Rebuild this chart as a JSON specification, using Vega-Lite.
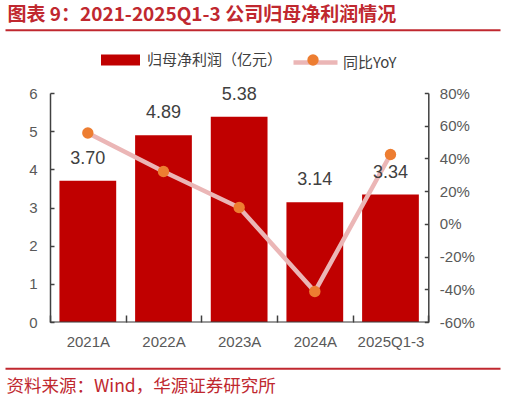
{
  "$schema": "https://vega.github.io/schema/vega-lite/v6.json",
  "width": 495,
  "height": 229,
  "autosize": {"type": "none"},
  "padding": {"left": 5, "top": 93, "right": 6, "bottom": 79},
  "background": "white",
  "config": {
    "view": {"stroke": null},
    "axis": {"grid": false, "labelFont": "Liberation Sans", "labelFontSize": 15, "labelColor": "#595959", "labelOverlap": false},
    "legend": {"labelFont": "Noto Sans CJK SC", "labelFontSize": 15, "labelColor": "#404040", "padding": 0}
  },
  "data": {
    "values": [
      {"period": "2021A", "profit": 3.70, "yoy": 0.555, "series": "同比YoY"},
      {"period": "2022A", "profit": 4.89, "yoy": 0.32, "series": "同比YoY"},
      {"period": "2023A", "profit": 5.38, "yoy": 0.10, "series": "同比YoY"},
      {"period": "2024A", "profit": 3.14, "yoy": -0.414, "series": "同比YoY"},
      {"period": "2025Q1-3", "profit": 3.34, "yoy": 0.424, "series": "同比YoY"}
    ]
  },
  "resolve": {
    "scale": {"x": "independent", "y": "independent"},
    "axis": {"x": "independent", "y": "independent"}
  },
  "layer": [
    {
      "layer": [
        {
          "mark": {"type": "bar", "width": {"band": 0.75}},
          "encoding": {
            "x": {
              "field": "period", "type": "nominal", "sort": null,
              "scale": {"type": "band", "paddingInner": 0, "paddingOuter": 0.7711, "align": 0.3856, "round": false},
              "axis": {
                "orient": "bottom", "title": null, "domain": false, "labelAngle": 0,
                "tickBand": "extent", "tickSize": -7, "tickColor": "#404040", "tickWidth": 1.5,
                "labelPadding": 19
              }
            },
            "y": {
              "field": "profit", "type": "quantitative",
              "scale": {"domain": [0, 6], "nice": false},
              "axis": {
                "orient": "left", "offset": -45, "title": null,
                "values": [0, 1, 2, 3, 4, 5, 6], "tickCount": 20, "format": "d",
                "domainColor": "#404040", "domainWidth": 1.5, "tickColor": "#404040", "tickWidth": 1.5,
                "tickSize": -4, "labelPadding": 17
              }
            },
            "color": {
              "datum": "归母净利润（亿元）",
              "scale": {"range": ["#C00000"]},
              "legend": {
                "orient": "none", "legendX": 96, "legendY": -52.5, "title": null,
                "symbolType": "M-1,-0.28H1V0.28H-1Z", "symbolSize": 1521, "symbolStrokeWidth": 0,
                "labelOffset": 7
              }
            }
          }
        },
        {
          "mark": {"type": "tick", "size": 75.7, "thickness": 1.5, "color": "#404040"},
          "encoding": {
            "x": {"field": "period", "type": "nominal", "sort": null},
            "y": {"datum": 0, "type": "quantitative"}
          }
        }
      ]
    },
    {
      "layer": [
        {
          "mark": {"type": "line", "strokeWidth": 4.5},
          "encoding": {
            "x": {
              "field": "period", "type": "nominal", "sort": null,
              "scale": {"type": "band", "paddingInner": 0, "paddingOuter": 0.7711, "align": 0.3856, "round": false},
              "axis": {
                "orient": "bottom", "offset": 46.3, "labels": false, "ticks": false,
                "domainColor": "#C0282F", "domainWidth": 2,
                "title": "资料来源：Wind，华源证券研究所",
                "titleX": 1, "titleY": 18.5, "titleAlign": "left", "titleBaseline": "middle",
                "titleFont": "Noto Sans CJK SC", "titleFontSize": 17.5, "titleFontWeight": "normal", "titleColor": "#C0282F"
              }
            },
            "y": {
              "field": "yoy", "type": "quantitative",
              "scale": {"domain": [-0.6, 0.8], "nice": false},
              "axis": {
                "orient": "right", "offset": -71.7, "title": null,
                "values": [-0.6, -0.4, -0.2, 0, 0.2, 0.4, 0.6, 0.8], "tickCount": 20, "format": ".0%",
                "labelExpr": "replace(datum.label, '−', '-')",
                "domainColor": "#404040", "domainWidth": 1.5, "tickColor": "#404040", "tickWidth": 1.5,
                "tickSize": -4, "labelPadding": 15
              }
            },
            "stroke": {
              "datum": "同比YoY",
              "scale": {"range": ["#EBB6B6"]},
              "legend": {
                "orient": "none", "legendX": 286, "legendY": -55, "title": null,
                "symbolType": "stroke", "symbolSize": 1936, "symbolStrokeWidth": 4.5,
                "labelOffset": 3
              }
            }
          }
        },
        {
          "mark": {"type": "point", "filled": true, "size": 130, "opacity": 1},
          "encoding": {
            "x": {"field": "period", "type": "nominal", "sort": null},
            "y": {"field": "yoy", "type": "quantitative"},
            "fill": {
              "field": "series", "type": "nominal",
              "scale": {"range": ["#ED7D31"]},
              "legend": {
                "orient": "none", "legendX": 302, "legendY": -39, "title": null,
                "symbolType": "circle", "symbolSize": 130, "symbolStrokeWidth": 0,
                "labelExpr": "''", "labelFontSize": 1, "labelOffset": 0
              }
            }
          }
        }
      ]
    },
    {
      "mark": {"type": "text", "dy": -22, "baseline": "middle", "font": "Liberation Sans", "fontSize": 18, "color": "#404040"},
      "encoding": {
        "x": {
          "field": "period", "type": "nominal", "sort": null,
          "scale": {"type": "band", "paddingInner": 0, "paddingOuter": 0.7711, "align": 0.3856, "round": false},
          "axis": {
            "orient": "top", "offset": 63.3, "labels": false, "ticks": false,
            "domainColor": "#C0282F", "domainWidth": 2,
            "title": "图表 9：2021-2025Q1-3 公司归母净利润情况",
            "titleX": 2, "titleY": -15, "titleAlign": "left", "titleBaseline": "middle",
            "titleFont": "Noto Sans CJK SC", "titleFontSize": 19, "titleFontWeight": "bold", "titleColor": "#C0282F"
          }
        },
        "y": {
          "field": "profit", "type": "quantitative",
          "scale": {"domain": [0, 6], "nice": false},
          "axis": null
        },
        "text": {"field": "profit", "type": "quantitative", "format": ".2f"}
      }
    }
  ]
}
